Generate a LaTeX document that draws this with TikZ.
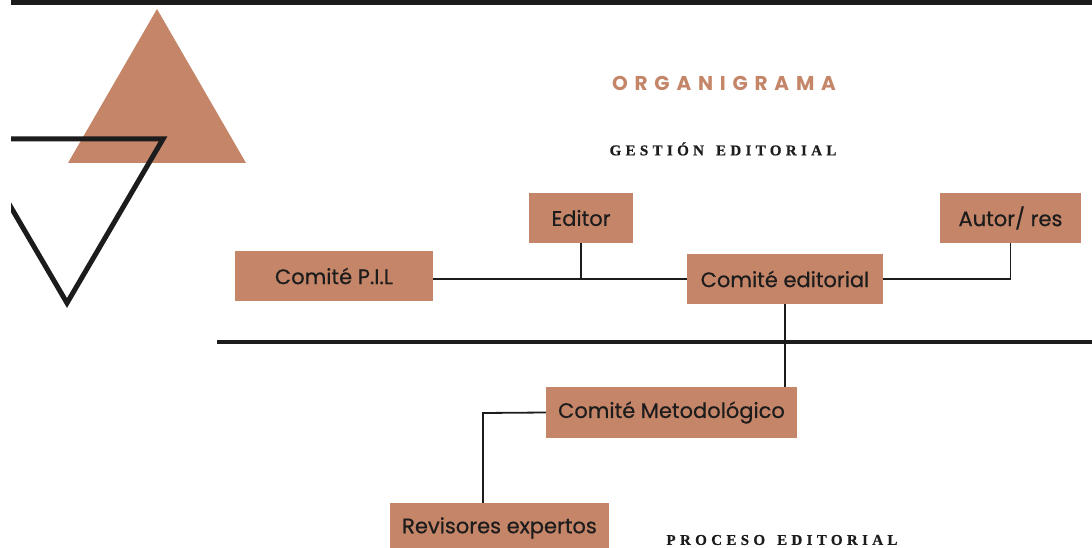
\documentclass[tikz,border=0pt]{standalone}
\usepackage{fontspec}
\setmainfont{Poppins}
\newfontfamily\boxfont[FakeBold=0.5]{Poppins}
\newfontfamily\titlefont[LetterSpace=34]{Poppins}
\newfontfamily\serifcaps[LetterSpace=29,FakeBold=0.6]{Liberation Serif}
\definecolor{terra}{RGB}{196,133,104}
\definecolor{ink}{RGB}{28,28,28}
\tikzset{
  box/.style={fill=terra, text=ink, inner sep=0pt, font=\boxfont\fontsize{21}{24}\selectfont},
  link/.style={draw=ink, line width=1.8pt},
  caps/.style={text=ink, font=\serifcaps\bfseries\fontsize{15}{16}\selectfont},
}
\begin{document}
\begin{tikzpicture}[x=1pt,y=-1pt]
\useasboundingbox (0,0) rectangle (1092,548);
\begin{scope}
\clip (0,0) rectangle (1092,548);
\fill[white] (0,0) rectangle (1092,548);
\fill[ink] (11,0) rectangle (1092,5);
\fill[terra] (157,9) -- (68,163) -- (246,163) -- cycle;
\begin{scope}
\clip (11,0) rectangle (300,548);
\draw[ink, line width=5pt, miter limit=20] (-29,139) -- (163,139) -- (67,303) -- cycle;
\end{scope}
\draw[ink, line width=4pt] (217,342) -- (1092,342);

\node[text=terra, font=\titlefont\bfseries\fontsize{20}{22}\selectfont] (t1) at (724,83) {ORGANIGRAMA};
\node[caps] (t2) at (723,149) {GESTIÓN\hbox to 12pt{}EDITORIAL};
\node[caps] (t3) at (782,540) {PROCESO\hbox to 12pt{}EDITORIAL};

\node[box, minimum width=104pt, minimum height=50pt] (ed) at (581,218) {Editor};
\node[box, minimum width=198pt, minimum height=50pt] (pil) at (334,276) {Comité P.I.L};
\node[box, minimum width=196pt, minimum height=50pt] (ced) at (785,279) {Comité editorial};
\node[box, minimum width=141pt, minimum height=50pt] (aut) at (1010.5,218) {Autor/ res};
\node[box, minimum width=251pt, minimum height=51pt] (met) at (671.5,412.5) {Comité Metodológico};
\node[box, minimum width=219pt, minimum height=50pt] (rev) at (499.5,528) {Revisores expertos};

\coordinate (k) at (483,413);
\draw[link, line width=1.5pt] (ced.west) -- (ced.west -| pil.east);
\draw[link] (ed.south) -- (ed.south |- ced.west);
\draw[link] (ced.east) -| (aut.south);
\draw[link] (ced.south) -- (ced.south |- met.north);
\draw[link] (met.west) -- (k) -- (k |- rev.north);
\end{scope}
\end{tikzpicture}
\end{document}
